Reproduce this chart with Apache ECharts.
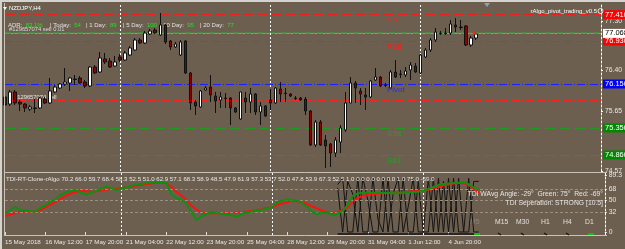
<!DOCTYPE html>
<html><head><meta charset="utf-8">
<script src="https://cdn.jsdelivr.net/npm/echarts@6/dist/echarts.min.js"></script>
<style>html,body{margin:0;padding:0;background:#6d5f4f;overflow:hidden}#c{width:625px;height:249px}</style>
</head><body><div id="c"></div>
<script>
// ---- data ----
const days = ['15 May','16 May','17 May','18 May','21 May','22 May','23 May','24 May','25 May','28 May','29 May','30 May','31 May','1 Jun','4 Jun','5 Jun'];
const hours = ['00:00','04:00','08:00','12:00','16:00','20:00'];
const timeTicks = ['15 May 04:00','16 May 12:00','17 May 20:00','21 May 04:00','22 May 12:00','23 May 20:00','25 May 04:00','28 May 12:00','29 May 20:00','31 May 04:00','1 Jun 12:00','4 Jun 20:00'];
const timeTickLabels = ['15 May 2018','16 May 12:00','17 May 20:00','21 May 04:00','22 May 12:00','23 May 20:00','25 May 04:00','28 May 12:00','29 May 20:00','31 May 04:00','1 Jun 12:00','4 Jun 20:00'];
const weekStarts = ['21 May 00:00','28 May 00:00','4 Jun 00:00'];

const opens = [75.914,75.786,76.005,75.823,75.786,75.695,75.714,75.714,75.877,75.805,76.005,76.077,76.150,76.168,76.241,76.259,76.186,76.114,76.459,76.368,76.605,76.568,76.477,76.641,76.586,76.677,76.768,76.950,76.895,77.059,77.132,77.041,77.223,76.932,76.823,76.677,76.932,76.350,75.823,75.732,76.041,76.095,75.932,75.859,75.895,75.895,75.714,75.514,75.895,75.823,75.968,75.641,75.750,75.859,75.805,76.059,75.986,75.968,75.895,75.895,75.877,75.659,75.041,75.459,75.132,75.059,74.895,75.095,75.314,75.805,76.168,76.023,75.950,75.914,76.223,76.277,76.132,76.077,76.368,76.332,76.314,76.405,76.477,76.350,76.641,76.768,76.950,77.077,77.077,77.077,77.223,77.186,77.205,76.859,76.986];
const closes = [75.768,76.005,75.805,75.786,75.714,75.732,75.705,75.895,75.805,76.023,76.095,76.150,76.186,76.259,76.232,76.168,76.114,76.459,76.350,76.623,76.550,76.459,76.550,76.586,76.714,76.805,76.950,76.895,77.077,77.114,77.077,77.223,76.914,76.823,76.877,76.914,76.350,75.805,75.750,76.023,76.077,75.950,75.841,75.914,75.886,75.714,75.641,76.005,75.823,75.968,75.641,75.750,75.568,75.805,76.077,75.968,75.977,75.932,75.886,75.859,75.659,75.041,75.459,75.041,75.023,74.895,75.132,75.350,75.805,76.168,76.077,75.968,75.914,76.205,76.277,76.114,76.123,76.368,76.277,76.323,76.386,76.495,76.368,76.677,76.768,76.950,77.095,77.068,77.068,77.241,77.186,77.177,76.859,76.986,77.059];
const lows = [75.714,75.750,75.768,75.659,75.641,75.659,75.623,75.695,75.786,75.786,75.986,76.059,76.114,76.023,76.132,76.150,76.077,76.095,76.332,76.350,76.514,76.441,76.459,76.550,76.568,76.659,76.750,76.877,76.877,77.041,77.059,77.023,76.877,76.768,76.805,76.659,76.332,75.677,75.586,75.714,76.023,75.823,75.623,75.714,75.714,75.405,75.623,75.495,75.623,75.623,75.586,75.405,75.550,75.677,75.786,75.823,75.823,75.914,75.859,75.841,75.586,75.023,75.005,75.023,74.623,74.641,74.823,74.895,75.277,75.805,75.805,75.768,75.677,75.895,76.205,76.095,76.095,76.077,76.259,76.259,76.277,76.223,76.350,76.332,76.623,76.732,76.914,77.041,77.041,77.041,77.095,77.132,76.841,76.823,76.950];
const highs = [75.950,76.041,76.041,75.859,75.805,75.768,75.877,75.914,75.914,76.259,76.132,76.168,76.441,76.277,76.314,76.295,76.223,76.477,76.495,76.732,76.714,76.623,76.659,76.695,76.750,76.841,76.986,76.986,77.114,77.150,77.168,77.441,77.241,76.950,76.914,76.950,76.950,76.368,75.859,76.041,76.114,76.314,76.005,76.005,75.986,75.914,75.732,76.005,76.005,76.077,75.986,75.823,75.768,76.059,76.095,76.186,76.077,75.986,75.932,75.914,75.914,75.677,75.495,75.495,75.223,75.077,75.186,75.405,76.005,76.277,76.205,76.077,76.077,76.223,76.441,76.295,76.168,76.405,76.586,76.405,76.459,76.550,76.532,76.695,76.805,76.986,77.168,77.114,77.168,77.314,77.350,77.314,77.223,77.023,77.095];

const tdiGreen = [29.6,34.0,39.6,35.1,34.0,32.9,32.6,38.0,41.9,47.5,52.2,58.5,62.5,64.9,66.1,62.5,59.3,61.7,64.9,68.0,72.0,69.6,66.5,68.0,70.4,73.1,75.2,75.9,77.5,78.3,79.1,79.4,77.5,60.1,53.8,51.4,44.3,32.1,19.0,25.3,28.5,31.6,30.1,28.8,27.7,26.1,24.5,28.5,30.9,32.4,34.0,35.6,36.7,40.0,46.7,50.3,51.4,50.9,49.1,45.1,39.6,31.6,28.5,30.9,30.1,26.1,29.3,33.2,42.7,57.0,60.9,62.2,62.2,62.2,62.2,61.7,61.7,61.4,61.2,61.7,62.5,63.3,63.8,65.7,68.0,71.2,74.4,75.9,76.7,77.5,78.0,78.0,75.9,70.4,66.5];
const tdiRed = [25.3,27.7,30.1,32.0,32.1,32.1,32.1,34.8,38.8,43.5,47.5,52.2,57.0,60.9,63.3,65.2,64.6,63.6,64.1,65.7,66.8,68.0,68.5,69.1,70.4,72.0,73.6,74.4,75.9,76.7,78.0,78.0,77.5,71.2,63.3,57.8,50.6,41.1,35.6,30.9,29.6,29.6,29.6,29.6,30.1,30.4,30.5,31.3,32.4,33.5,34.5,36.4,38.0,39.6,42.7,45.1,47.5,49.5,48.3,46.7,44.3,40.3,36.9,33.5,31.2,30.1,31.6,34.8,38.8,49.1,53.8,57.0,58.5,59.8,60.6,61.2,61.7,62.0,62.2,63.0,63.8,64.4,64.9,65.7,66.5,68.8,71.2,73.6,75.2,76.7,78.0,76.7,74.4,68.0,61.7];
// spikes start at bar 66
const tdiSpikeA = [75,85,0,0,85,0,0,85,20,0,85,0,0,85,0,0,80,0,0,85,0,80,0,85,0,0,0,80,80];
const tdiSpikeB = [70,0,80,60,0,85,50,0,0,85,0,60,85,0,40,85,0,0,85,0,85,0,85,0,85,0,85,0,0];

const pivotNames = ['R61','R38','Pivot','S38','S61'];
const pivotValues = [77.410,76.930,76.150,75.350,74.860];
const bidPrice = 77.068;
const prevLevel = 75.860;
const priceTicks = [77.30,76.40,75.65,74.57];
const tdiTicks = [0,32,50,68,89.3];
const tdiLevels = [32,50,68];
const tdiBase = -3;

const adrLabels = ['ADR:','| Today:','| 1 Day:','| 5 Day:','| 10 Day:','| 20 Day:'];
const adrValues = ['83.1%','54','89','100','95','77'];
const tdiHeaderValues = ['70.2','66.0','59.7','68.4','58.3','52.5','51.0','62.9','57.1','68.3','58.9','48.5','47.9','61.9','57.3','53.7','52.0','47.8','53.9','67.3','52.5','1.0','0.0','0.0','0.0','0.0','1.0','75.0','-69.0'];
const timeframes = ['M5','M15','M30','H1','H4','D1'];

// ---- build ----
const FONT = '"Liberation Sans", Arial, sans-serif';
const BG = '#6d5f4f';
const cats = [];
days.forEach(d => hours.forEach(h => cats.push(d + ' ' + h)));
const barCats = cats.slice(1, 1 + opens.length);
const allCats = barCats.concat(Array.from({length: 120 - barCats.length}, (_, i) => 'pad' + i));
const tickMap = {};
timeTicks.forEach((t, i) => tickMap[t] = timeTickLabels[i]);
const showTick = (idx, val) => tickMap[val] !== undefined;
const candles = opens.map((o, i) => [o, closes[i], lows[i], highs[i]]);
const spikeStart = 66;
const padNull = n => Array(n).fill(null);
const spikeA = padNull(spikeStart).concat(tdiSpikeA);
const spikeB = padNull(spikeStart).concat(tdiSpikeB);

const levelColors = ['#e82020','#e82020','#2020ff','#1f9a1f','#1f9a1f'];
const levelDash = [[10,4],[8,5],[8,2,1,2],[10,5],[10,5]];
const boxColors = ['#ff0000','#ff0000','#0000ff','#008800','#008800'];

const boxLabel = (text, bg, fg) => ({show: true, position: 'end', distance: 2, formatter: text, color: fg,
  backgroundColor: bg, padding: [1, 2, 0, 2], fontSize: 7.5, fontFamily: FONT});
const markLevels = pivotValues.map((v, i) => ({
  yAxis: v,
  lineStyle: {color: levelColors[i], width: 1, type: levelDash[i]},
  label: boxLabel(v.toFixed(3), boxColors[i], '#ffffff')
}));
markLevels.push({yAxis: prevLevel, lineStyle: {color: '#ff2020', width: 1, type: [8,2,1,2]}, label: {show: false}});
markLevels.push({yAxis: bidPrice, lineStyle: {color: '#9a9a9a', width: 1, type: 'solid'}, label: boxLabel(bidPrice.toFixed(3), '#ffffff', '#000000')});
markLevels.push({yAxis: bidPrice + 0.01, lineStyle: {color: '#3c9c3c', width: 1.5, type: [6,2,2,2]}, label: {show: false}});
weekStarts.forEach(w => markLevels.push({xAxis: w, lineStyle: {color: '#ffffff', width: 1, type: [2,2]}, label: {show: false}}));

const tdiMarks = tdiLevels.map(v => ({yAxis: v, lineStyle: {color: '#9b8f80', width: 1, type: [3,2]}, label: {show: false}}));
weekStarts.forEach(w => tdiMarks.push({xAxis: w, lineStyle: {color: '#ffffff', width: 1, type: [2,2]}, label: {show: false}}));

const chart = echarts.init(document.getElementById('c'), null, {renderer: 'canvas', width: 625, height: 249});
const option = {
  backgroundColor: BG,
  animation: false,
  grid: [
    {left: 5, right: 18, top: 3, height: 168},
    {left: 5, right: 18, top: 173, height: 62}
  ],
  xAxis: [
    {type: 'category', gridIndex: 0, data: allCats, boundaryGap: false,
      axisLine: {show: false}, axisTick: {show: false}, axisLabel: {show: false}, splitLine: {show: false}},
    {type: 'category', gridIndex: 1, data: allCats, boundaryGap: false,
      axisLine: {show: false},
      axisTick: {show: true, interval: showTick, length: 3, lineStyle: {color: '#dddddd'}},
      axisLabel: {interval: showTick, formatter: v => tickMap[v] || '', align: 'left', color: '#e8e8e8',
        fontSize: 6.2, fontFamily: FONT, margin: 4},
      splitLine: {show: false}}
  ],
  yAxis: [
    {type: 'value', gridIndex: 0, position: 'right', min: 74.568, max: 77.623,
      axisLine: {show: true, lineStyle: {color: '#ffffff', type: [2,2]}},
      axisTick: {show: true, length: 2, customValues: priceTicks, lineStyle: {color: '#ffffff'}},
      axisLabel: {customValues: priceTicks, formatter: v => v.toFixed(2), color: '#e8e8e8', fontSize: 6.8, fontFamily: FONT, margin: 4},
      splitLine: {show: false}},
    {type: 'value', gridIndex: 1, position: 'right', min: -4.75, max: 93.35,
      axisLine: {show: true, lineStyle: {color: '#ffffff', type: [2,2]}},
      axisTick: {show: true, length: 2, customValues: tdiTicks, lineStyle: {color: '#ffffff'}},
      axisLabel: {customValues: tdiTicks, formatter: v => String(v), color: '#e8e8e8', fontSize: 6.8, fontFamily: FONT, margin: 4},
      splitLine: {show: false}}
  ],
  series: [
    {type: 'candlestick', xAxisIndex: 0, yAxisIndex: 0, data: candles, barWidth: 3, z: 5,
      itemStyle: {color: '#ffffff', color0: '#8b0000', borderColor: '#111111', borderColor0: '#111111', borderWidth: 1},
      markLine: {symbol: 'none', silent: true, animation: false, z: 2, data: markLevels}},
    {type: 'line', xAxisIndex: 1, yAxisIndex: 1, data: spikeA, symbol: 'none', lineStyle: {color: '#141414', width: 1}, z: 3},
    {type: 'line', xAxisIndex: 1, yAxisIndex: 1, data: spikeB, symbol: 'none', lineStyle: {color: '#141414', width: 1}, z: 3,
      markLine: {symbol: 'none', silent: true, data: [[{coord: [barCats[spikeStart], tdiBase]}, {coord: [barCats[barCats.length - 1], tdiBase]}]],
        lineStyle: {color: '#141414', width: 1.5, type: 'solid'}, label: {show: false}}},
    {type: 'line', xAxisIndex: 1, yAxisIndex: 1, data: tdiRed, symbol: 'none', lineStyle: {color: '#ff1010', width: 2}, z: 4},
    {type: 'line', xAxisIndex: 1, yAxisIndex: 1, data: tdiGreen, symbol: 'none', lineStyle: {color: '#109010', width: 2}, z: 5,
      markLine: {symbol: 'none', silent: true, data: tdiMarks}}
  ]
};
chart.setOption(option);

// ---- text overlays ----
const txt = (text, x, y, color, size, align, extra) => Object.assign({type: 'text', z: 100, silent: true,
  style: {text: text, x: x, y: y, fill: color, font: size + 'px ' + FONT, align: align || 'left', verticalAlign: 'middle'}}, extra || {});
const g = [];
// frames
g.push({type: 'line', z: 90, shape: {x1: 0, y1: 1, x2: 625, y2: 1}, style: {stroke: '#d6d3ce', lineWidth: 2}});
g.push({type: 'line', z: 90, shape: {x1: 1, y1: 0, x2: 1, y2: 249}, style: {stroke: '#d6d3ce', lineWidth: 2}});
g.push({type: 'line', z: 90, shape: {x1: 4.5, y1: 3, x2: 4.5, y2: 236}, style: {stroke: '#c8c2b8', lineWidth: 1}});
g.push({type: 'line', z: 90, shape: {x1: 4, y1: 172.5, x2: 607, y2: 172.5}, style: {stroke: '#c8c2b8', lineWidth: 1}});
g.push({type: 'line', z: 90, shape: {x1: 4, y1: 235.5, x2: 607, y2: 235.5}, style: {stroke: '#c8c2b8', lineWidth: 1}});
// title
g.push({type: 'polygon', z: 100, shape: {points: [[3,7],[7,7],[5,10]]}, style: {fill: '#ffffff'}});
g.push(txt('NZDJPY,H4', 9, 8.5, '#ffffff', 6));
g.push({type: 'polygon', z: 100, shape: {points: [[484,3],[490,3],[487,7]]}, style: {fill: '#8fa0b8'}});
// ADR row
const adrX = [8, 50, 86, 123, 160, 200];
adrLabels.forEach((l, i) => {
  g.push({type: 'text', z: 1, silent: true, style: {
    text: '{w|' + l + '} {g|' + adrValues[i] + '}', x: adrX[i], y: 25, verticalAlign: 'middle',
    rich: {w: {fill: '#e0e0e0', font: '6px ' + FONT}, g: {fill: '#22e022', font: '6px ' + FONT}}}});
});
g.push(txt('#129657074 sell 0.01', 9, 29.5, '#d8d8d8', 5.8, 'left', {z: 1}));
g.push(txt('#129657074 sell', 14, 97, '#e8e8e8', 5.8, 'left', {z: 1}));
g.push(txt('rAlgo_pivot_trading_v0.5', 597, 11, '#ffffff', 6, 'right'));
g.push({type: 'circle', z: 100, shape: {cx: 600.5, cy: 11, r: 2.5}, style: {fill: 'none', stroke: '#ffffff', lineWidth: 0.8}});
// pivot names
const nameColors = ['#ff1c1c','#ff1c1c','#2a2aff','#22a022','#22a022'];
pivotNames.forEach((n, i) => {
  const y = chart.convertToPixel({yAxisIndex: 0}, pivotValues[i]);
  g.push(txt(n, 387, y + 5.5, nameColors[i], 8));
});
// indicator header
g.push(txt('TDI-RT-Clone-rAlgo ' + tdiHeaderValues.join(' '), 6, 179.5, '#e6e6e6', 6.1));
g.push(txt('TDI WAvg Angle: -29\u00b0  Green: 75\u00b0  Red: -69\u00b0', 603, 194, '#e6e6e6', 6.8, 'right'));
g.push(txt('TDI Seperation: STRONG [10.5]', 603, 203.5, '#e6e6e6', 6.8, 'right'));
const tfX = [470, 495, 516, 541, 563, 585];
timeframes.forEach((t, i) => g.push(txt(t, tfX[i], 222, i === 0 ? '#8f8578' : '#e0e0e0', 6.8, 'left', {z: 2})));
[500, 523, 546, 568].forEach(x => g.push({type: 'line', z: 100, shape: {x1: x - 2, y1: 233, x2: x + 1, y2: 235}, style: {stroke: '#111', lineWidth: 1.2}}));
[474, 588].forEach(x => g.push({type: 'rect', z: 100, shape: {x: x, y: 233, width: 6, height: 2}, style: {fill: '#10c010'}}));
// trade marker
const tp = chart.convertToPixel({xAxisIndex: 0, yAxisIndex: 0}, [barCats[barCats.length - 1], bidPrice + 0.01]);
g.push({type: 'circle', z: 100, shape: {cx: tp[0] - 1.5, cy: tp[1], r: 1.8}, style: {fill: '#ff2020'}});
chart.setOption({graphic: g});
</script></body></html>
